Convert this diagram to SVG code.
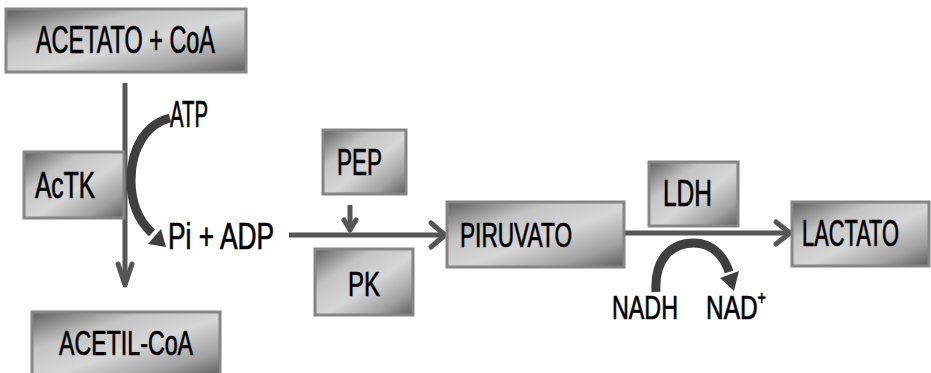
<svg xmlns="http://www.w3.org/2000/svg" width="931" height="373" viewBox="0 0 931 373">
  <defs>
    <linearGradient id="boxFill" x1="0" y1="0" x2="1" y2="1">
      <stop offset="0" stop-color="#5e5e5e"/>
      <stop offset="0.3" stop-color="#c4c4c4"/>
      <stop offset="0.55" stop-color="#d6d6d6"/>
      <stop offset="0.8" stop-color="#a2a2a2"/>
      <stop offset="1" stop-color="#5c5c5c"/>
    </linearGradient>
  </defs>
  <style>
    .box { fill: url(#boxFill); stroke: #858585; stroke-width: 3; }
    .lbl { font-family: "Liberation Sans", Arial, sans-serif; fill: #000; stroke: #000; stroke-width: 0.7; }
    .line { stroke: #555; stroke-width: 5; fill: none; }
    .chev { stroke: #555; stroke-width: 5; fill: none; stroke-linecap: round; stroke-linejoin: round; }
    .curve { stroke: #3f3f3f; stroke-width: 9; fill: none; }
    .head { fill: #3f3f3f; }
  </style>
  <rect width="931" height="373" fill="#fff"/>

  <!-- reaction arrows -->
  <g id="connectors">
    <!-- acetate to acetyl-CoA -->
    <line class="line" x1="125" y1="83" x2="125" y2="285"/>
    <polyline class="chev" points="118,264 125,285 132,264"/>
    <!-- ATP consumption loop -->
    <path class="curve" d="M170,118 C146,124 131,148 131,180 C131,206 140,222 152,233"/>
    <polygon class="head" points="148,244 161,229 166,247"/>
    <!-- Pi + ADP to pyruvate -->
    <line class="line" x1="289" y1="235" x2="445" y2="235"/>
    <polyline class="chev" points="431,223 445,235 431,247"/>
    <!-- PEP input -->
    <line class="line" x1="350" y1="205" x2="350" y2="230"/>
    <polyline class="chev" points="344,220 350,230 356,220"/>
    <!-- pyruvate to lactate -->
    <line class="line" x1="617" y1="233" x2="790" y2="233"/>
    <polyline class="chev" points="776,222 790,233 776,244"/>
    <!-- NADH oxidation loop -->
    <path class="curve" d="M656,292 C654,258 672,243 694,243 C712,243 724,256 729,272"/>
    <polygon class="head" points="720,278 739,271 734,291"/>
  </g>

  <g id="acetato-coa">
    <rect class="box" x="6" y="9" width="240" height="63"/>
    <text class="lbl" x="36" y="53" font-size="38" textLength="179" lengthAdjust="spacingAndGlyphs">ACETATO + CoA</text>
  </g>

  <g id="actk">
    <rect class="box" x="24" y="152" width="100" height="66"/>
    <text class="lbl" x="35" y="198" font-size="36" textLength="60" lengthAdjust="spacingAndGlyphs">AcTK</text>
  </g>

  <g id="atp">
    <text class="lbl" x="170" y="127" font-size="37" textLength="38" lengthAdjust="spacingAndGlyphs">ATP</text>
  </g>

  <g id="pi-adp">
    <text class="lbl" x="168" y="249" font-size="36" textLength="106" lengthAdjust="spacingAndGlyphs">Pi +  ADP</text>
  </g>

  <g id="pep">
    <rect class="box" x="323" y="130" width="83" height="64"/>
    <text class="lbl" x="337" y="175" font-size="37" textLength="45" lengthAdjust="spacingAndGlyphs">PEP</text>
  </g>

  <g id="pk">
    <rect class="box" x="315" y="249" width="98" height="66"/>
    <text class="lbl" x="348" y="296" font-size="35" textLength="32" lengthAdjust="spacingAndGlyphs">PK</text>
  </g>

  <g id="piruvato">
    <rect class="box" x="447" y="202" width="177" height="65"/>
    <text class="lbl" x="460" y="247" font-size="35" textLength="112" lengthAdjust="spacingAndGlyphs">PIRUVATO</text>
  </g>

  <g id="ldh">
    <rect class="box" x="649" y="162" width="89" height="64"/>
    <text class="lbl" x="663" y="206" font-size="37" textLength="49" lengthAdjust="spacingAndGlyphs">LDH</text>
  </g>

  <g id="lactato">
    <rect class="box" x="792" y="202" width="137" height="64"/>
    <text class="lbl" x="802" y="246" font-size="36" textLength="97" lengthAdjust="spacingAndGlyphs">LACTATO</text>
  </g>

  <g id="nadh">
    <text class="lbl" x="612" y="319" font-size="34" textLength="66" lengthAdjust="spacingAndGlyphs">NADH</text>
  </g>

  <g id="nad-plus">
    <text class="lbl" x="706" y="319" font-size="34" textLength="60" lengthAdjust="spacingAndGlyphs">NAD<tspan font-size="20" dy="-14">+</tspan></text>
  </g>

  <g id="acetil-coa">
    <rect class="box" x="32" y="312" width="188" height="64"/>
    <text class="lbl" x="59" y="355" font-size="35" textLength="134" lengthAdjust="spacingAndGlyphs">ACETIL-CoA</text>
  </g>
</svg>
